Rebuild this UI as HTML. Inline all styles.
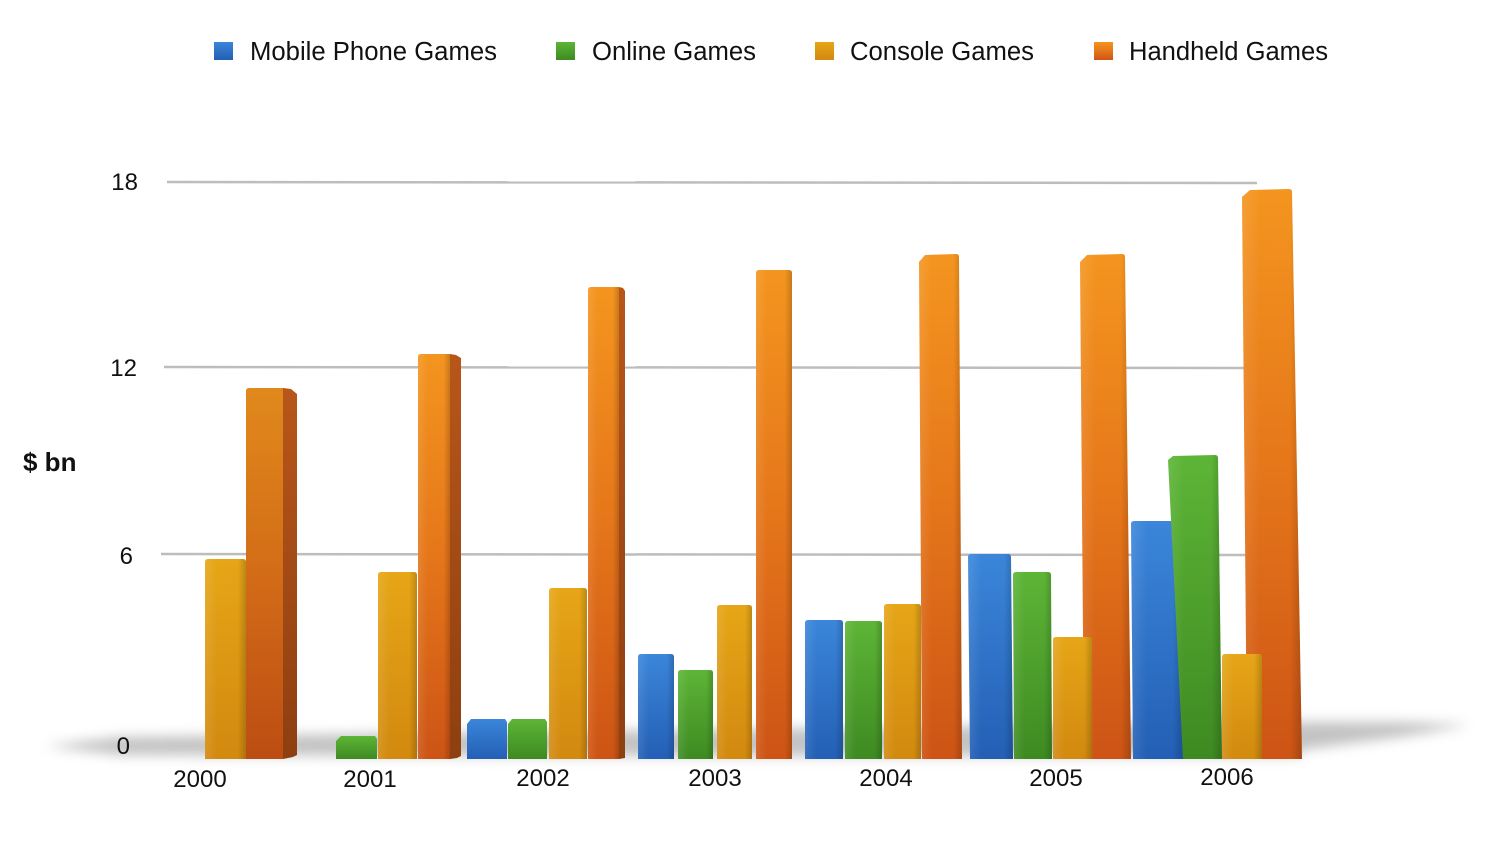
<!DOCTYPE html>
<html>
<head>
<meta charset="utf-8">
<style>
  html,body{margin:0;padding:0;background:#fff;}
  svg{display:block;}
  text{font-family:"Liberation Sans", Arial, sans-serif;fill:#111;}
</style>
</head>
<body>
<svg width="1499" height="847" viewBox="0 0 1499 847" xmlns="http://www.w3.org/2000/svg">
  <defs>
    <linearGradient id="gO" x1="0" y1="0" x2="0" y2="1">
      <stop offset="0" stop-color="#f4951f"/>
      <stop offset="0.5" stop-color="#e5761a"/>
      <stop offset="1" stop-color="#cd5415"/>
    </linearGradient>
    <linearGradient id="gY" x1="0" y1="0" x2="0" y2="1">
      <stop offset="0" stop-color="#e6a617"/>
      <stop offset="1" stop-color="#d2890f"/>
    </linearGradient>
    <linearGradient id="gG" x1="0" y1="0" x2="0" y2="1">
      <stop offset="0" stop-color="#5db536"/>
      <stop offset="1" stop-color="#3e8a22"/>
    </linearGradient>
    <linearGradient id="gB" x1="0" y1="0" x2="0" y2="1">
      <stop offset="0" stop-color="#3b86da"/>
      <stop offset="1" stop-color="#235fb5"/>
    </linearGradient>
    <linearGradient id="shade" x1="0" y1="0" x2="1" y2="0">
      <stop offset="0" stop-color="#fff" stop-opacity="0.10"/>
      <stop offset="0.3" stop-color="#fff" stop-opacity="0"/>
      <stop offset="0.8" stop-color="#000" stop-opacity="0"/>
      <stop offset="1" stop-color="#000" stop-opacity="0.18"/>
    </linearGradient>
    <linearGradient id="side" x1="0" y1="0" x2="0" y2="1">
      <stop offset="0" stop-color="#b8561a"/>
      <stop offset="1" stop-color="#8e3f10"/>
    </linearGradient>
    <filter id="blur" x="-10%" y="-200%" width="120%" height="500%">
      <feGaussianBlur stdDeviation="6"/>
    </filter>
  </defs>

  <!-- Legend -->
  <rect x="214" y="42" width="19" height="18" fill="url(#gB)"/>
  <text x="250" y="60" font-size="25.5" textLength="247" lengthAdjust="spacingAndGlyphs">Mobile Phone Games</text>
  <rect x="556" y="42" width="19" height="18" fill="url(#gG)"/>
  <text x="592" y="60" font-size="25.5" textLength="164" lengthAdjust="spacingAndGlyphs">Online Games</text>
  <rect x="815" y="42" width="19" height="18" fill="url(#gY)"/>
  <text x="850" y="60" font-size="25.5" textLength="184" lengthAdjust="spacingAndGlyphs">Console Games</text>
  <rect x="1094" y="42" width="19" height="18" fill="url(#gO)"/>
  <text x="1129" y="60" font-size="25.5" textLength="199" lengthAdjust="spacingAndGlyphs">Handheld Games</text>

  <!-- Gridlines -->
  <line x1="167" y1="182" x2="1257" y2="183" stroke="#bdbdbd" stroke-width="2.5"/>
  <line x1="164" y1="367" x2="1248" y2="368" stroke="#bdbdbd" stroke-width="2.5"/>
  <line x1="161" y1="554" x2="1246" y2="555" stroke="#bdbdbd" stroke-width="2.5"/>

  <!-- Floor shadow -->
  <polygon points="45,746 120,737 600,731 1300,722 1400,722 1470,725 1400,737 1300,750 1300,756 600,756 120,755" fill="#b4b4b4" opacity="0.8" filter="url(#blur)"/>

  <!-- Y axis labels -->
  <text x="138" y="190" font-size="24" text-anchor="end">18</text>
  <text x="137" y="376" font-size="24" text-anchor="end">12</text>
  <text x="133" y="564" font-size="24" text-anchor="end">6</text>
  <text x="130" y="754" font-size="24" text-anchor="end">0</text>
  <text x="23" y="471" font-size="26" font-weight="bold">$ bn</text>

  <!-- 2000 -->
  <g>
    <path d="M205,562 Q205,559 208,559 L243,559 Q246,559 246,562 L246,759 L205,759 Z" fill="url(#gY)"/>
    <path d="M205,562 Q205,559 208,559 L243,559 Q246,559 246,562 L246,759 L205,759 Z" fill="url(#shade)"/>
    <polygon points="283,388 291,389 297,394 297,755 293,757 283,759" fill="url(#side)"/>
    <path d="M246,391 Q246,388 249,388 L283,388 L283,759 L246,759 Z" fill="url(#gO)"/>
    <path d="M246,391 Q246,388 249,388 L283,388 L283,759 L246,759 Z" fill="#000" opacity="0.08"/>
  </g>

  <!-- 2001 -->
  <g>
    <path d="M336,741 L341,736 L375,736 L377,739 L377,759 L336,759 Z" fill="url(#gG)"/>
    <path d="M378,575 Q378,572 381,572 L414,572 Q417,572 417,575 L417,759 L378,759 Z" fill="url(#gY)"/>
    <path d="M378,575 Q378,572 381,572 L414,572 Q417,572 417,575 L417,759 L378,759 Z" fill="url(#shade)"/>
    <polygon points="450,354 456,355 461,358 461,756 457,758 450,759" fill="url(#side)"/>
    <path d="M418,357 Q418,354 421,354 L450,354 L450,759 L418,759 Z" fill="url(#gO)"/>
    <path d="M418,357 Q418,354 421,354 L450,354 L450,759 L418,759 Z" fill="url(#shade)"/>
  </g>

  <!-- 2002 -->
  <g>
    <path d="M467,724 L471,719 L505,719 L507,722 L507,759 L467,759 Z" fill="url(#gB)"/>
    <path d="M508,724 L512,719 L545,719 L547,722 L547,759 L508,759 Z" fill="url(#gG)"/>
    <path d="M549,591 Q549,588 552,588 L584,588 Q587,588 587,591 L587,759 L549,759 Z" fill="url(#gY)"/>
    <path d="M549,591 Q549,588 552,588 L584,588 Q587,588 587,591 L587,759 L549,759 Z" fill="url(#shade)"/>
    <polygon points="619,287 623,288 625,291 625,758 619,759" fill="url(#side)"/>
    <path d="M588,290 Q588,287 591,287 L619,287 L619,759 L588,759 Z" fill="url(#gO)"/>
    <path d="M588,290 Q588,287 591,287 L619,287 L619,759 L588,759 Z" fill="url(#shade)"/>
  </g>

  <!-- 2003 -->
  <g>
    <path d="M638,657 Q638,654 641,654 L671,654 Q674,654 674,657 L674,759 L638,759 Z" fill="url(#gB)"/>
    <path d="M638,657 Q638,654 641,654 L671,654 Q674,654 674,657 L674,759 L638,759 Z" fill="url(#shade)"/>
    <path d="M678,673 Q678,670 681,670 L710,670 Q713,670 713,673 L713,759 L678,759 Z" fill="url(#gG)"/>
    <path d="M678,673 Q678,670 681,670 L710,670 Q713,670 713,673 L713,759 L678,759 Z" fill="url(#shade)"/>
    <path d="M717,608 Q717,605 720,605 L749,605 Q752,605 752,608 L752,759 L717,759 Z" fill="url(#gY)"/>
    <path d="M717,608 Q717,605 720,605 L749,605 Q752,605 752,608 L752,759 L717,759 Z" fill="url(#shade)"/>
    <path d="M756,273 Q756,270 759,270 L789,270 Q792,270 792,273 L792,759 L756,759 Z" fill="url(#gO)"/>
    <path d="M756,273 Q756,270 759,270 L789,270 Q792,270 792,273 L792,759 L756,759 Z" fill="url(#shade)"/>
  </g>

  <!-- 2004 -->
  <g>
    <path d="M805,623 Q805,620 808,620 L840,620 Q843,620 843,623 L843,759 L805,759 Z" fill="url(#gB)"/>
    <path d="M805,623 Q805,620 808,620 L840,620 Q843,620 843,623 L843,759 L805,759 Z" fill="url(#shade)"/>
    <path d="M845,624 Q845,621 848,621 L879,621 Q882,621 882,624 L882,759 L845,759 Z" fill="url(#gG)"/>
    <path d="M845,624 Q845,621 848,621 L879,621 Q882,621 882,624 L882,759 L845,759 Z" fill="url(#shade)"/>
    <path d="M884,607 Q884,604 887,604 L918,604 Q921,604 921,607 L921,759 L884,759 Z" fill="url(#gY)"/>
    <path d="M884,607 Q884,604 887,604 L918,604 Q921,604 921,607 L921,759 L884,759 Z" fill="url(#shade)"/>
    <path d="M919,262 L925,255 L956,254 Q959,254 959,257 L962,759 L922,759 Z" fill="url(#gO)"/>
    <path d="M919,262 L925,255 L956,254 Q959,254 959,257 L962,759 L922,759 Z" fill="url(#shade)"/>
  </g>

  <!-- 2005 -->
  <g>
    <path d="M1080,262 L1087,255 L1122,254 Q1125,254 1125,257 L1131,759 L1084,759 Z" fill="url(#gO)"/>
    <path d="M1080,262 L1087,255 L1122,254 Q1125,254 1125,257 L1131,759 L1084,759 Z" fill="url(#shade)"/>
    <path d="M968,557 Q968,554 971,554 L1008,554 Q1011,554 1011,557 L1013,759 L970,759 Z" fill="url(#gB)"/>
    <path d="M968,557 Q968,554 971,554 L1008,554 Q1011,554 1011,557 L1013,759 L970,759 Z" fill="url(#shade)"/>
    <path d="M1013,575 Q1013,572 1016,572 L1048,572 Q1051,572 1051,575 L1052,759 L1014,759 Z" fill="url(#gG)"/>
    <path d="M1013,575 Q1013,572 1016,572 L1048,572 Q1051,572 1051,575 L1052,759 L1014,759 Z" fill="url(#shade)"/>
    <path d="M1053,640 Q1053,637 1056,637 L1089,637 Q1092,637 1092,640 L1092,759 L1053,759 Z" fill="url(#gY)"/>
    <path d="M1053,640 Q1053,637 1056,637 L1089,637 Q1092,637 1092,640 L1092,759 L1053,759 Z" fill="url(#shade)"/>
  </g>

  <!-- 2006 -->
  <g>
    <path d="M1242,197 L1250,190 L1289,189 Q1292,189 1292,192 L1302,759 L1247,759 Z" fill="url(#gO)"/>
    <path d="M1242,197 L1250,190 L1289,189 Q1292,189 1292,192 L1302,759 L1247,759 Z" fill="url(#shade)"/>
    <path d="M1131,524 Q1131,521 1134,521 L1178,521 Q1181,521 1181,524 L1183,759 L1133,759 Z" fill="url(#gB)"/>
    <path d="M1131,524 Q1131,521 1134,521 L1178,521 Q1181,521 1181,524 L1183,759 L1133,759 Z" fill="url(#shade)"/>
    <path d="M1168,460 L1173,456 L1215,455 Q1218,455 1218,458 L1222,759 L1183,759 Z" fill="url(#gG)"/>
    <path d="M1168,460 L1173,456 L1215,455 Q1218,455 1218,458 L1222,759 L1183,759 Z" fill="url(#shade)"/>
    <path d="M1222,657 Q1222,654 1225,654 L1259,654 Q1262,654 1262,657 L1262,759 L1222,759 Z" fill="url(#gY)"/>
    <path d="M1222,657 Q1222,654 1225,654 L1259,654 Q1262,654 1262,657 L1262,759 L1222,759 Z" fill="url(#shade)"/>
  </g>

  <!-- X axis labels -->
  <text x="200" y="787" font-size="24" text-anchor="middle">2000</text>
  <text x="370" y="787" font-size="24" text-anchor="middle">2001</text>
  <text x="543" y="786" font-size="24" text-anchor="middle">2002</text>
  <text x="715" y="786" font-size="24" text-anchor="middle">2003</text>
  <text x="886" y="786" font-size="24" text-anchor="middle">2004</text>
  <text x="1056" y="786" font-size="24" text-anchor="middle">2005</text>
  <text x="1227" y="785" font-size="24" text-anchor="middle">2006</text>
</svg>
</body>
</html>
